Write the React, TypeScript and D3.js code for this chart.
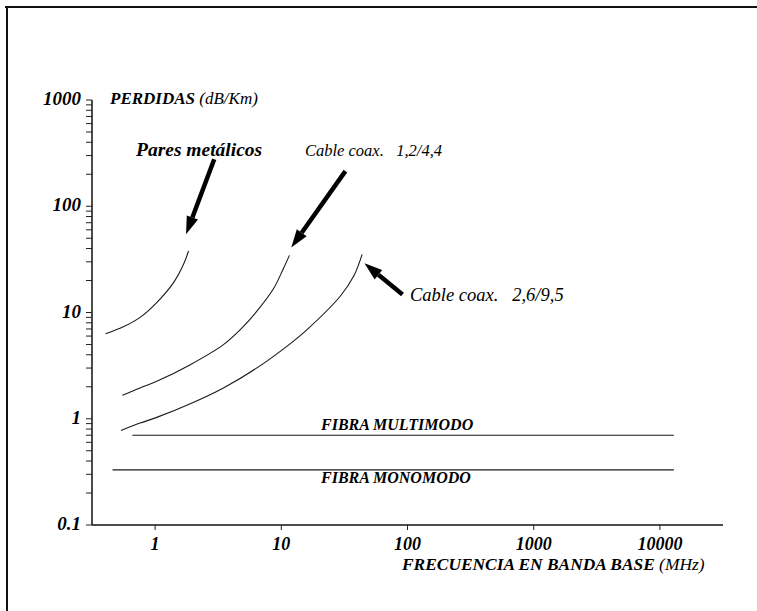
import React from 'react';
import * as d3 from 'd3';

// frequency (MHz) and loss (dB/Km)
const paresFreq = [0.406, 0.56, 0.76, 1.03, 1.4, 1.68, 1.84];
const paresLoss = [6.3, 7.33, 9.0, 12.4, 19.1, 28.4, 37.9];

const coax1Freq = [0.55, 0.76, 1.03, 1.9, 3.48, 4.73, 6.41, 8.69, 10.4, 11.6];
const coax1Loss = [1.66, 1.95, 2.25, 3.23, 4.99, 6.9, 10.3, 16.8, 26.0, 34.5];

const coax2Freq = [0.537, 0.76, 1.03, 1.9, 3.48, 6.41, 11.8, 16.0, 29.4, 37.5, 43.7];
const coax2Loss = [0.776, 0.91, 1.03, 1.385, 1.95, 3.01, 5.1, 6.9, 14.3, 22, 35.3];

const multiFreq = [0.66, 12900];
const multiLoss = [0.7, 0.7];
const monoFreq = [0.46, 12900];
const monoLoss = [0.33, 0.33];

// arrows: [tail freq, tail loss, tip freq, tip loss]
const arrowPares = [2.94, 277, 1.76, 54.4];
const arrowCoax1 = [32.2, 214, 12.0, 41];
const arrowCoax2 = [91.3, 14.8, 45.6, 29];

const xTickValues = [1, 10, 100, 1000, 10000];
const xTickLabels = ['1', '10', '100', '1000', '10000'];
const yTickValues = [0.1, 1, 10, 100, 1000];
const yTickLabels = ['0.1', '1', '10', '100', '1000'];

const W = 757;
const H = 611;

const x = d3.scaleLog().domain([Math.pow(10, -0.5), Math.pow(10, 4.5)]).range([92, 723]);
const y = d3.scaleLog().domain([0.1, 1000]).range([525, 100]);

const line = d3.line<number[]>()
  .x(d => x(d[0]))
  .y(d => y(d[1]))
  .curve(d3.curveCatmullRom.alpha(0.5));

const series = [
  [paresFreq, paresLoss],
  [coax1Freq, coax1Loss],
  [coax2Freq, coax2Loss],
  [multiFreq, multiLoss],
  [monoFreq, monoLoss],
];

const yMinor: number[] = [];
for (let e = -1; e < 3; e++) {
  for (let m = 1; m < 10; m++) yMinor.push(m * Math.pow(10, e));
}
yMinor.push(1000);

const Arrow = ({ a }: { a: number[] }) => {
  const x1 = x(a[0]), y1 = y(a[1]), x2 = x(a[2]), y2 = y(a[3]);
  const ang = Math.atan2(y2 - y1, x2 - x1);
  const headLen = 18, headW = 6;
  const bx = x2 - headLen * Math.cos(ang), by = y2 - headLen * Math.sin(ang);
  const px = -Math.sin(ang) * headW, py = Math.cos(ang) * headW;
  return (
    <g>
      <line x1={x1} y1={y1} x2={bx} y2={by} stroke="#000" strokeWidth={4.5} />
      <path d={`M${x2},${y2}L${bx + px},${by + py}L${bx - px},${by - py}Z`} fill="#000" />
    </g>
  );
};

// serif italic text, Times-like
const it = (size: number, bold = false): React.CSSProperties => ({
  fontFamily: 'Liberation Serif, Times New Roman, serif',
  fontStyle: 'italic',
  fontWeight: bold ? 700 : 400,
  fontSize: `${size}px`,
});

const App = () => {
  const [x0, x1] = x.range();
  const [y0, y1] = y.range();
  return (
    <svg width={W} height={H}
      style={{ position: 'absolute', left: 0, top: 0, background: '#fff' }}>
      {/* page frame */}
      <line x1={5} x2={W} y1={7} y2={7} stroke="#111" strokeWidth={2} />
      <line x1={7} x2={7} y1={6} y2={H} stroke="#111" strokeWidth={2} />

      {/* y axis */}
      <line x1={x0} x2={x0} y1={y1} y2={y0} stroke="#111" strokeWidth={1.5} />
      {yMinor.map(v => (
        <line key={v} x1={x0 - 6} x2={x0} y1={y(v)} y2={y(v)} stroke="#222" strokeWidth={1} />
      ))}
      {yTickValues.map((v, i) => (
        <text key={v} x={81} y={y(v) + 5} textAnchor="end" style={it(19, true)}>
          {yTickLabels[i]}
        </text>
      ))}

      {/* x axis */}
      <line x1={x0} x2={x1} y1={y0} y2={y0} stroke="#111" strokeWidth={1.5} />
      {xTickValues.map((v, i) => (
        <g key={v}>
          <line x1={x(v)} x2={x(v)} y1={y0} y2={y0 + 5} stroke="#222" strokeWidth={1} />
          <text x={x(v)} y={550} textAnchor="middle" style={it(18, true)}>{xTickLabels[i]}</text>
        </g>
      ))}

      {/* axis titles */}
      <text x={110} y={104} style={it(17, true)}>
        PERDIDAS <tspan fontWeight={400}>(dB/Km)</tspan>
      </text>
      <text x={402} y={570} style={it(17.4, true)}>
        FRECUENCIA EN BANDA BASE <tspan fontWeight={400}>(MHz)</tspan>
      </text>

      {/* curves */}
      {series.map(([fs, ls], i) => (
        <path key={i} d={line(fs.map((f, j) => [f, ls[j]])) || ''}
          fill="none" stroke="#1a1a1a" strokeWidth={1.1} />
      ))}

      {/* arrows */}
      <Arrow a={arrowPares} />
      <Arrow a={arrowCoax1} />
      <Arrow a={arrowCoax2} />

      {/* curve labels */}
      <text x={136} y={156} style={it(19.5, true)}>Pares metálicos</text>
      <text x={305} y={156} style={it(16.5)} xmlSpace="preserve">{'Cable coax.   1,2/4,4'}</text>
      <text x={410} y={301} style={it(18.5)} xmlSpace="preserve">{'Cable coax.   2,6/9,5'}</text>

      <text x={321} y={430} style={it(16, true)}>FIBRA MULTIMODO</text>
      <text x={321} y={483} style={it(16, true)}>FIBRA MONOMODO</text>
    </svg>
  );
};

export default App;
